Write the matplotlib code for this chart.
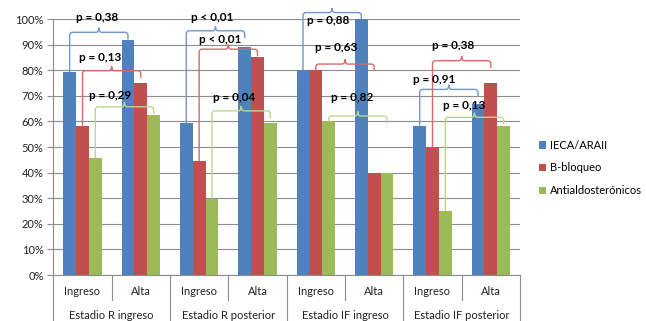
import matplotlib.pyplot as plt
import matplotlib.transforms as mtransforms
from matplotlib.path import Path
from matplotlib.patches import PathPatch
import numpy as np

plt.rcParams['font.family'] = ['Lato', 'DejaVu Sans']

# Data ------------------------------------------------------------------------
stages = ['Estadio R ingreso', 'Estadio R posterior',
          'Estadio IF ingreso', 'Estadio IF posterior']
moments = ['Ingreso', 'Alta']
series = ['IECA/ARAII', 'B-bloqueo', 'Antialdosterónicos']

ieca = [79.2, 91.7, 59.3, 88.9, 80.0, 100.0, 58.3, 66.7]
bbloqueo = [58.3, 75.0, 44.4, 85.2, 80.0, 40.0, 50.0, 75.0]
antialdo = [45.8, 62.5, 29.6, 59.3, 60.0, 40.0, 25.0, 58.3]

p_ieca = ['p = 0,38', 'p < 0,01', 'p = 0,88', 'p = 0,91']
p_bbloqueo = ['p = 0,13', 'p < 0,01', 'p = 0,63', 'p = 0,38']
p_antialdo = ['p = 0,29', 'p = 0,04', 'p = 0,82', 'p = 0,13']

# Bracket layout (height of the brace, label shift and label height)
brace_level = [[94.8, 95.4, 102.5, 72.5],
               [79.8, 88.2, 82.4, 83.7],
               [65.7, 64.1, 62.1, 61.6]]
label_dx = [[-0.03, -0.06, -0.07, -0.25],
            [-0.20, -0.14, -0.15, -0.14],
            [-0.24, -0.13, -0.10, -0.18]]
label_y = [[100.7, 100.7, 99.3, 76.2],
           [85.0, 92.1, 88.9, 89.6],
           [70.3, 69.4, 69.4, 66.1]]

colors = ['#4F81BD', '#C0504D', '#9BBB59']
brace_colors = ['#7096CB', '#D46B69', '#B9D98F']
grid_color = '#8C8C8C'

# Build Plot ------------------------------------------------------------------
fig = plt.figure(figsize=(6.46, 3.21), dpi=100)
ax = fig.add_axes([53.3 / 646, 1 - 275 / 321, 466.7 / 646, 256 / 321])

values = [ieca, bbloqueo, antialdo]
pvals = [p_ieca, p_bbloqueo, p_antialdo]
n_cat = len(values[0])
x = np.arange(n_cat) + 0.5
width = 0.22
offsets = [-width, 0.0, width]

bars = []
for vals, off, col, name in zip(values, offsets, colors, series):
    bars.append(ax.bar(x + off, vals, width, color=col, label=name,
                       zorder=2, linewidth=0))

ax.set_xlim(0, n_cat)
ax.set_ylim(0, 100)
ax.set_yticks(np.arange(0, 101, 10))
ax.set_yticklabels(['%d%%' % v for v in range(0, 101, 10)])
ax.yaxis.grid(True, color=grid_color, linewidth=0.8, zorder=0)
ax.set_axisbelow(True)
ax.set_xticks([])
ax.tick_params(axis='y', length=4, width=0.8, color=grid_color,
               labelsize=8, pad=3, labelcolor='#222222')
for side in ['top', 'right']:
    ax.spines[side].set_visible(False)
for side in ['left', 'bottom']:
    ax.spines[side].set_color(grid_color)
    ax.spines[side].set_linewidth(0.8)

# Two-level category axis drawn below the plot
trans = mtransforms.blended_transform_factory(ax.transData, ax.transAxes)
for i in range(n_cat):
    ax.text(x[i], -0.066, moments[i % 2], transform=trans, ha='center',
            va='center', fontsize=8, color='#222222')
for g, name in enumerate(stages):
    ax.text(2 * g + 1, -0.16, name, transform=trans, ha='center',
            va='center', fontsize=8, color='#222222')
for k in range(0, n_cat + 1):
    bottom = -0.2 if k % 2 == 0 else -0.098
    ax.plot([k, k], [0, bottom], transform=trans, color=grid_color,
            linewidth=0.8, clip_on=False)

# Braces linking Ingreso and Alta of each stage
rx, ry = 0.05, 1.2
bw, bh = 0.05, 1.8
for s in range(3):
    for g in range(4):
        x1 = x[2 * g] + offsets[s]
        x2 = x[2 * g + 1] + offsets[s]
        xm = (x1 + x2) / 2
        lev = brace_level[s][g]
        y1 = values[s][2 * g]
        y2 = max(values[s][2 * g + 1], lev - 2.8)
        verts = [(x1, y1), (x1, lev - ry), (x1, lev), (x1 + rx, lev),
                 (xm - bw, lev), (xm, lev), (xm, lev + bh),
                 (xm, lev), (xm + bw, lev),
                 (x2 - rx, lev), (x2, lev), (x2, lev - ry), (x2, y2)]
        codes = [Path.MOVETO, Path.LINETO, Path.CURVE3, Path.CURVE3,
                 Path.LINETO, Path.CURVE3, Path.CURVE3,
                 Path.CURVE3, Path.CURVE3,
                 Path.LINETO, Path.CURVE3, Path.CURVE3, Path.LINETO]
        ax.add_patch(PathPatch(Path(verts, codes), facecolor='none',
                               edgecolor=brace_colors[s], linewidth=1.0,
                               zorder=3, clip_on=False))
        ax.text(xm + label_dx[s][g], label_y[s][g], pvals[s][g],
                ha='center', va='center', fontsize=8.5, fontweight='bold',
                color='black', zorder=4, clip_on=False)

ax.legend(loc='center left', bbox_to_anchor=(534.6 / 646, 1 - 168 / 321),
          bbox_transform=fig.transFigure, frameon=False, fontsize=8,
          handlelength=0.65, handleheight=0.65, handletextpad=0.3,
          labelspacing=1.05, borderaxespad=0)

plt.savefig('out.png', dpi=100)
